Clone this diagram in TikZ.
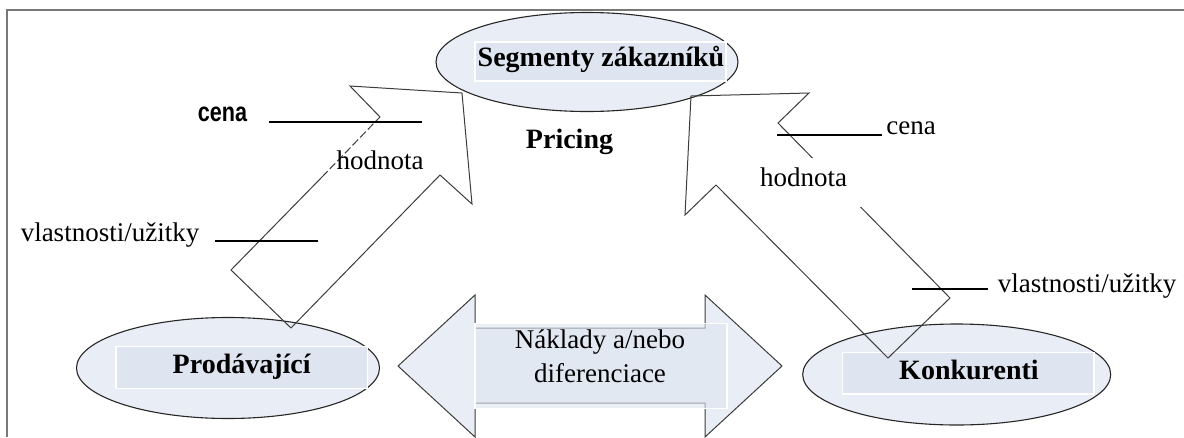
\documentclass[tikz,border=0pt]{standalone}
\usepackage{fontspec}
\setmainfont{Liberation Serif}
\newfontfamily\cenafont{Liberation Sans}[FakeStretch=0.8]
\usetikzlibrary{shapes.geometric}
\definecolor{efill}{RGB}{233,238,246}
\definecolor{bfill}{RGB}{222,229,240}
\definecolor{framec}{RGB}{120,120,120}
\definecolor{outl}{RGB}{60,60,60}
\begin{document}
\begin{tikzpicture}[x=1pt,y=-1pt,
  ellipsebox/.style={ellipse, draw=black!85, line width=1.1pt, fill=efill, inner sep=0pt},
  labelbox/.style={rectangle, draw=white, line width=1.2pt, fill=bfill, inner sep=0pt},
  boldtxt/.style={font=\fontsize{28}{33}\selectfont\bfseries, inner sep=0pt},
  regtxt/.style={font=\fontsize{27}{34}\selectfont, inner sep=0pt},
  outline/.style={draw=outl, line width=1pt, line join=miter},
  lead/.style={draw=black, line width=1.3pt}]
\useasboundingbox (0,0) rectangle (1184,437);
% frame
\draw[framec, line width=1.5pt] (7,437) -- (7,10) -- (1184,10);

% ellipses with label boxes
\node[ellipsebox, minimum width=302pt, minimum height=99pt] (seg) at (587,62) {};
\node[labelbox, minimum width=251pt, minimum height=39pt] (segbox) at (600.5,61.4) {};
\node[boldtxt, anchor=base] (segt) at (601,66.7) {Segmenty zákazníků};

\node[ellipsebox, minimum width=303pt, minimum height=101pt] (prod) at (228,368) {};
\node[labelbox, minimum width=251.7pt, minimum height=41.6pt] (prodbox) at (241.9,367.5) {};
\node[boldtxt, anchor=base] (prodt) at (241.7,373.3) {Prodávající};

\node[ellipsebox, minimum width=308pt, minimum height=101pt] (konk) at (956.7,374.5) {};
\node[labelbox, minimum width=251.7pt, minimum height=41.7pt] (konkbox) at (968.2,373.2) {};
\node[boldtxt, anchor=base] (konkt) at (969,379.3) {Konkurenti};

\node[boldtxt, anchor=base] (pricing) at (569.5,148) {Pricing};

% double arrow
\path[outline, fill=efill] (398,366) -- (475,295) -- (475,328) -- (705,328) -- (705,295)
  -- (782,366) -- (705,437) -- (705,403) -- (475,403) -- (475,437) -- cycle;
\node[labelbox, fill opacity=0.6, minimum width=252pt, minimum height=85pt] (nakbox) at (601,365.8) {};
\node[regtxt, anchor=base] (nak1) at (600,348) {Náklady a/nebo};
\node[regtxt, anchor=base] (nak2) at (600,382) {diferenciace};

% left arrow (Prodávající -> Segmenty)
\draw[outline] (377,120) -- (380,117) -- (350,86) -- (462,93) -- (472,204) -- (440,175)
  -- (291,328) -- (231,270) -- (322,177);
\draw[outline, dash pattern=on 8pt off 3pt] (322,177) -- (377,120);

% right arrow (Konkurenti -> Segmenty)
\draw[outline] (691,96) -- (809,93) -- (778,123) -- (950,298) -- (888,358) -- (716,185)
  -- (685,215) -- cycle;
\fill[white] (752,158) rectangle (862,207);

% labels left
\node[font={\cenafont\bfseries\fontsize{27}{30}\selectfont}, inner sep=0pt, anchor=base] (cenaL) at (222.5,121) {cena};
\coordinate (cenaLa) at (269,122);
\coordinate (cenaLb) at (422,122);
\draw[lead] (cenaLa) -- (cenaLb);
\node[regtxt, anchor=base] (hodL) at (380,169) {hodnota};
\node[regtxt, anchor=base] (vlL) at (110,241.7) {vlastnosti/užitky};
\coordinate (vlLa) at (215,241);
\coordinate (vlLb) at (318,241);
\draw[lead] (vlLa) -- (vlLb);

% labels right
\node[regtxt, anchor=base] (cenaR) at (911,134) {cena};
\coordinate (cenaRa) at (777,135);
\coordinate (cenaRb) at (882,135);
\draw[lead] (cenaRa) -- (cenaRb);
\node[regtxt, anchor=base] (hodR) at (803.5,186) {hodnota};
\node[regtxt, anchor=base] (vlR) at (1087,292) {vlastnosti/užitky};
\coordinate (vlRa) at (912,289);
\coordinate (vlRb) at (988,289);
\draw[lead] (vlRa) -- (vlRb);
\end{tikzpicture}
\end{document}
